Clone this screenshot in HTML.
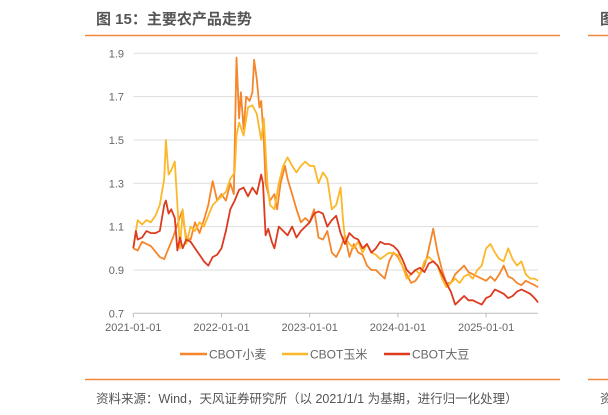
<!DOCTYPE html>
<html><head><meta charset="utf-8"><style>
body{margin:0;width:608px;height:415px;background:#fff;overflow:hidden;font-family:"Liberation Sans","Noto Sans CJK SC",sans-serif;}
svg{position:absolute;left:0;top:0}
</style></head><body>
<svg width="608" height="415">
<text x="96" y="24" font-size="15" font-weight="bold" fill="#555">图 15：主要农产品走势</text>
<text x="600" y="24" font-size="15" font-weight="bold" fill="#555">图</text>
<line x1="85" y1="35.5" x2="560" y2="35.5" stroke="#F0893C" stroke-width="1.5"/>
<line x1="588" y1="35.5" x2="608" y2="35.5" stroke="#F0893C" stroke-width="1.5"/>
<g id="grid"></g>
<g id="yt"></g>
<g id="xt"></g>
<g id="series"></g>
<g font-size="12" fill="#666">
<line x1="180" y1="354" x2="207" y2="354" stroke="#F5862B" stroke-width="2.5"/>
<text x="209" y="358.5">CBOT小麦</text>
<line x1="282" y1="354" x2="308" y2="354" stroke="#FBB82A" stroke-width="2.5"/>
<text x="310" y="358.5">CBOT玉米</text>
<line x1="384" y1="354" x2="410" y2="354" stroke="#DD3A1E" stroke-width="2.5"/>
<text x="412" y="358.5">CBOT大豆</text>
</g>
<line x1="85" y1="379.5" x2="560" y2="379.5" stroke="#F0893C" stroke-width="1.5"/>
<line x1="588" y1="379.5" x2="608" y2="379.5" stroke="#F0893C" stroke-width="1.5"/>
<text x="96" y="403" font-size="12.5" fill="#555">资料来源：Wind，天风证券研究所（以 2021/1/1 为基期，进行归一化处理）</text>
<text x="600" y="403" font-size="12.5" fill="#555">资</text>
</svg>
<script>
const yTicks=[0.7,0.9,1.1,1.3,1.5,1.7,1.9];
const xTickLabels=["2021-01-01","2022-01-01","2023-01-01","2024-01-01","2025-01-01"];
const xTickYears=[2021,2022,2023,2024,2025];
const wheatT=[2021.0,2021.05,2021.1,2021.2,2021.3,2021.35,2021.45,2021.55,2021.6,2021.65,2021.7,2021.75,2021.8,2021.85,2021.9,2021.95,2022.0,2022.05,2022.1,2022.14,2022.17,2022.2,2022.22,2022.25,2022.28,2022.32,2022.35,2022.37,2022.4,2022.43,2022.45,2022.48,2022.5,2022.55,2022.6,2022.63,2022.67,2022.72,2022.75,2022.8,2022.85,2022.9,2022.95,2023.0,2023.05,2023.1,2023.15,2023.2,2023.25,2023.3,2023.35,2023.4,2023.45,2023.5,2023.55,2023.6,2023.65,2023.7,2023.75,2023.8,2023.85,2023.9,2023.95,2024.0,2024.05,2024.1,2024.15,2024.2,2024.25,2024.3,2024.33,2024.4,2024.45,2024.5,2024.55,2024.6,2024.65,2024.7,2024.75,2024.8,2024.85,2024.9,2025.0,2025.05,2025.1,2025.15,2025.2,2025.25,2025.3,2025.35,2025.4,2025.45,2025.5,2025.55,2025.59];
const wheatV=[1.0,0.99,1.03,1.01,0.96,0.95,1.05,1.17,1.05,1.04,1.12,1.07,1.13,1.2,1.31,1.22,1.25,1.22,1.3,1.25,1.88,1.6,1.72,1.55,1.7,1.68,1.72,1.87,1.78,1.65,1.68,1.5,1.3,1.22,1.25,1.18,1.3,1.38,1.32,1.25,1.18,1.12,1.14,1.12,1.18,1.05,1.04,1.08,0.98,0.96,1.0,1.06,0.96,1.02,0.98,0.97,0.92,0.9,0.9,0.88,0.86,0.94,0.98,0.96,0.92,0.88,0.84,0.85,0.88,0.92,0.96,1.09,0.98,0.9,0.84,0.84,0.88,0.9,0.92,0.89,0.88,0.87,0.85,0.87,0.85,0.88,0.92,0.87,0.86,0.84,0.83,0.85,0.84,0.83,0.82];
const cornT=[2021.0,2021.05,2021.1,2021.15,2021.2,2021.25,2021.3,2021.35,2021.37,2021.4,2021.43,2021.47,2021.5,2021.53,2021.56,2021.6,2021.65,2021.7,2021.75,2021.8,2021.85,2021.9,2021.95,2022.0,2022.05,2022.1,2022.15,2022.17,2022.2,2022.25,2022.3,2022.35,2022.4,2022.45,2022.48,2022.52,2022.55,2022.6,2022.65,2022.7,2022.75,2022.8,2022.85,2022.9,2022.95,2023.0,2023.05,2023.1,2023.15,2023.2,2023.25,2023.3,2023.35,2023.38,2023.4,2023.45,2023.5,2023.55,2023.6,2023.65,2023.7,2023.75,2023.8,2023.9,2024.0,2024.05,2024.1,2024.15,2024.2,2024.25,2024.3,2024.35,2024.4,2024.45,2024.5,2024.55,2024.6,2024.65,2024.7,2024.75,2024.8,2024.85,2024.9,2024.95,2025.0,2025.05,2025.1,2025.15,2025.2,2025.25,2025.3,2025.35,2025.4,2025.45,2025.5,2025.55,2025.59];
const cornV=[1.0,1.13,1.11,1.13,1.12,1.15,1.2,1.32,1.5,1.34,1.36,1.4,1.2,1.0,1.18,1.02,1.1,1.08,1.12,1.1,1.15,1.2,1.22,1.24,1.26,1.32,1.35,1.52,1.58,1.52,1.65,1.66,1.62,1.5,1.6,1.3,1.2,1.18,1.3,1.38,1.42,1.38,1.35,1.38,1.4,1.38,1.38,1.3,1.35,1.32,1.18,1.2,1.28,1.12,1.05,1.02,1.0,1.03,0.98,1.02,0.98,0.97,0.95,0.98,0.97,0.92,0.86,0.88,0.9,0.88,0.94,0.96,0.94,0.92,0.86,0.82,0.84,0.86,0.84,0.87,0.88,0.86,0.9,0.92,1.0,1.02,0.98,0.95,0.94,1.0,0.95,0.92,0.94,0.88,0.86,0.86,0.85];
const soyT=[2021.0,2021.03,2021.05,2021.1,2021.15,2021.2,2021.25,2021.3,2021.35,2021.37,2021.4,2021.43,2021.47,2021.5,2021.53,2021.56,2021.6,2021.65,2021.7,2021.75,2021.8,2021.85,2021.9,2021.95,2022.0,2022.05,2022.1,2022.15,2022.2,2022.25,2022.3,2022.35,2022.4,2022.45,2022.47,2022.5,2022.53,2022.57,2022.6,2022.65,2022.7,2022.75,2022.8,2022.85,2022.9,2022.95,2023.0,2023.05,2023.1,2023.15,2023.2,2023.25,2023.3,2023.35,2023.4,2023.45,2023.5,2023.55,2023.6,2023.65,2023.7,2023.75,2023.8,2023.85,2023.9,2023.95,2024.0,2024.05,2024.1,2024.15,2024.2,2024.25,2024.3,2024.35,2024.4,2024.45,2024.5,2024.55,2024.6,2024.65,2024.7,2024.75,2024.8,2024.85,2024.9,2024.95,2025.0,2025.05,2025.1,2025.15,2025.2,2025.25,2025.3,2025.35,2025.4,2025.45,2025.5,2025.55,2025.59];
const soyV=[1.0,1.08,1.04,1.05,1.08,1.07,1.07,1.08,1.2,1.22,1.16,1.18,1.14,0.99,1.05,1.0,1.04,1.03,1.0,0.97,0.94,0.92,0.96,0.97,1.0,1.08,1.18,1.22,1.27,1.28,1.24,1.28,1.25,1.34,1.3,1.06,1.09,1.03,1.0,1.1,1.08,1.06,1.1,1.05,1.08,1.1,1.12,1.16,1.17,1.16,1.1,1.13,1.15,1.07,1.02,1.07,1.05,1.04,1.0,1.02,0.98,1.0,1.03,1.02,1.02,1.01,0.99,0.95,0.9,0.88,0.9,0.91,0.89,0.93,0.94,0.92,0.88,0.84,0.8,0.74,0.76,0.78,0.76,0.76,0.75,0.74,0.77,0.78,0.81,0.8,0.79,0.77,0.78,0.8,0.81,0.8,0.79,0.77,0.75];
const NS="http://www.w3.org/2000/svg";
const X0=133.3,PXY=88.2,Y0=313.3,PXV=216.7;
function xs(t){return X0+(t-2021)*PXY;}
function ys(v){return Y0-(v-0.7)*PXV;}
function mk(tag,attrs,parent){const e=document.createElementNS(NS,tag);for(const k in attrs)e.setAttribute(k,attrs[k]);parent.appendChild(e);return e;}
const grid=document.getElementById('grid'),yt=document.getElementById('yt'),xt=document.getElementById('xt'),sg=document.getElementById('series');
yTicks.forEach(v=>{
  const l=mk('line',{x1:X0,x2:538,y1:ys(v),y2:ys(v),stroke:v===0.7?'#bbb':'#ddd','stroke-width':1},grid);
  
  
  const t=mk('text',{x:124,y:ys(v)+4,'font-size':11,fill:'#666','text-anchor':'end'},yt);
  t.textContent=v.toFixed(1);
  
  
});
xTickYears.forEach((yr,i)=>{
  const l=mk('line',{x1:xs(yr),x2:xs(yr),y1:Y0,y2:Y0+4,stroke:'#bbb'},xt);
  
  
  const t=mk('text',{x:xs(yr),y:331,'font-size':11,fill:'#666','text-anchor':'middle'},xt);
  t.textContent=xTickLabels[i];
  
  
});
function line(T,V,color,name){
  const d=T.map((t,i)=>(i?'L':'M')+xs(t).toFixed(1)+' '+ys(V[i]).toFixed(1)).join(' ');
  const p=mk('path',{d:d,fill:'none',stroke:color,'stroke-width':1.8,'stroke-linejoin':'round'},sg);
  
  
}
line(wheatT,wheatV,'#F5862B','wheat-line');
line(cornT,cornV,'#FBB82A','corn-line');
line(soyT,soyV,'#DD3A1E','soybean-line');
</script>
</body></html>
